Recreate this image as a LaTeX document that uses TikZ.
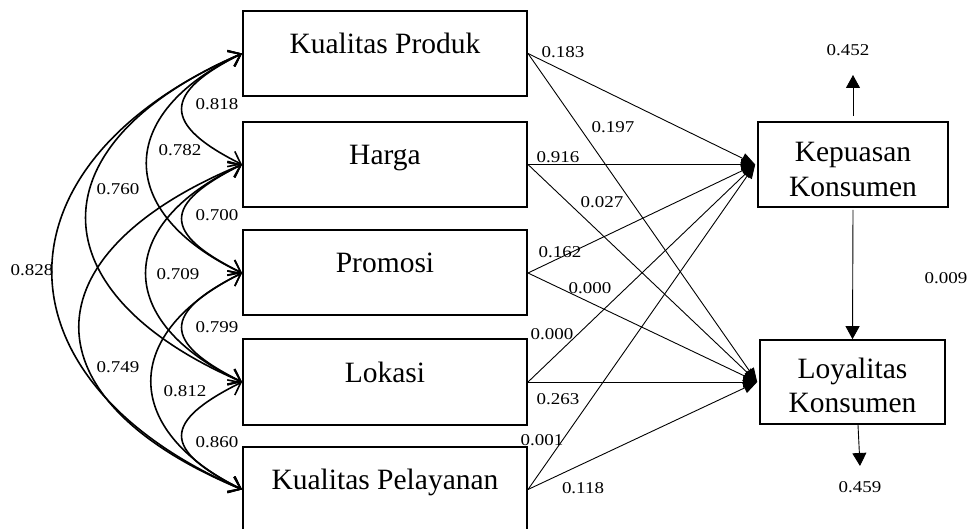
\documentclass[tikz,border=0pt]{standalone}
\usepackage{fontspec}
\setmainfont{Liberation Serif}
\newfontfamily\lblfont[FakeStretch=1.15]{Liberation Serif}
\usetikzlibrary{arrows.meta}
\begin{document}
\begin{tikzpicture}[x=1pt,y=-1pt,
  lbox/.style={draw,line width=2pt,minimum width=284pt,minimum height=85pt,inner sep=0pt,font=\fontsize{29.5}{35}\selectfont},
  rbox/.style={draw,line width=1.6pt,inner sep=0pt,font=\fontsize{29.5}{35}\selectfont},
  lab/.style={font=\lblfont\fontsize{16.5}{18}\selectfont,inner sep=0pt},
  corr/.style={line width=1.6pt,{Straight Barb[length=11pt,width=17pt]}-{Straight Barb[length=11pt,width=17pt]}},
  pathline/.style={line width=0.9pt,-{Triangle[length=14pt,width=11pt]}},
  vtri/.style={line width=0.9pt,-{Triangle[length=13pt,width=14pt]}}]
\useasboundingbox (0,0) rectangle (967,529);

% left boxes
\node[lbox] (kp) at (385,53.5) {\raisebox{0pt}[0pt][0pt]{Kualitas Produk}};
\node[lbox] (hg) at (385,164.5) {\raisebox{0pt}[0pt][0pt]{Harga}};
\node[lbox] (pr) at (385,273) {\raisebox{0pt}[0pt][0pt]{Promosi}};
\node[lbox] (lk) at (385,382) {\raisebox{0pt}[0pt][0pt]{Lokasi}};
\node[lbox] (kl) at (385,489.5) {\raisebox{0pt}[0pt][0pt]{Kualitas Pelayanan}};

% right boxes
\node[rbox,minimum width=190pt,minimum height=85pt] (kep) at (853,164.5)
  {\raisebox{2.5pt}[0pt][0pt]{\parbox[t]{185pt}{\centering Kepuasan\\Konsumen}}};
\node[rbox,minimum width=185pt,minimum height=84pt] (loy) at (852.5,382)
  {\raisebox{4pt}[0pt][0pt]{\parbox[t]{180pt}{\centering Loyalitas\\Konsumen}}};

% correlations
\draw[corr] (kp.west) .. controls +(-80,40) and +(-80,-40) .. (hg.west);
\draw[corr] (hg.west) .. controls +(-80,40) and +(-80,-40) .. (pr.west);
\draw[corr] (pr.west) .. controls +(-80,40) and +(-80,-40) .. (lk.west);
\draw[corr] (lk.west) .. controls +(-80,40) and +(-80,-40) .. (kl.west);
\draw[corr] (kp.west) .. controls +(-127,60) and +(-127,-60) .. (pr.west);
\draw[corr] (hg.west) .. controls +(-128,60) and +(-128,-60) .. (lk.west);
\draw[corr] (pr.west) .. controls +(-121,60) and +(-121,-60) .. (kl.west);
\draw[corr] (kp.west) .. controls +(-208,90) and +(-208,-90) .. (lk.west);
\draw[corr] (hg.west) .. controls +(-217,90) and +(-217,-90) .. (kl.west);
\draw[corr] (kp.west) .. controls +(-253,110) and +(-253,-110) .. (kl.west);

% correlation labels
\node[lab] (c818) at (217,104) {0.818};
\node[lab] (c782) at (180,150) {0.782};
\node[lab] (c760) at (118,189) {0.760};
\node[lab] (c700) at (217,215) {0.700};
\node[lab] (c828) at (32,270) {0.828};
\node[lab] (c709) at (178,274) {0.709};
\node[lab] (c799) at (217,327) {0.799};
\node[lab] (c749) at (118,367) {0.749};
\node[lab] (c812) at (185,391) {0.812};
\node[lab] (c860) at (217,442) {0.860};

% paths
\draw[pathline] (kp.east) -- ([xshift=-2pt]kep.west);
\draw[pathline] (kp.east) -- ([xshift=-2pt]loy.west);
\draw[pathline] (hg.east) -- ([xshift=-2pt]kep.west);
\draw[pathline] (hg.east) -- ([xshift=-2pt]loy.west);
\draw[pathline] (pr.east) -- ([xshift=-2pt]kep.west);
\draw[pathline] (pr.east) -- ([xshift=-2pt]loy.west);
\draw[pathline] (lk.east) -- ([xshift=-2pt]kep.west);
\draw[pathline] (lk.east) -- ([xshift=-2pt]loy.west);
\draw[pathline] (kl.east) -- ([xshift=-2pt]kep.west);
\draw[pathline] (kl.east) -- ([xshift=-2pt]loy.west);

% path labels
\node[lab] (p183) at (563,52) {0.183};
\node[lab] (p197) at (613,127) {0.197};
\node[lab] (p916) at (558,157) {0.916};
\node[lab] (p027) at (602,202) {0.027};
\node[lab] (p162) at (560,252) {0.162};
\node[lab] (p000a) at (590,288) {0.000};
\node[lab] (p000b) at (552,334) {0.000};
\node[lab] (p263) at (558,399) {0.263};
\node[lab] (p001) at (542,440) {0.001};
\node[lab] (p118) at (583,488) {0.118};

% vertical arrows
\coordinate (up452) at (853,75);
\coordinate (dn459) at (860,466);
\draw[vtri] ([yshift=5pt]kep.north) -- (up452);
\draw[vtri] ([yshift=-2pt]kep.south) -- (loy.north);
\draw[vtri] ([xshift=5.5pt]loy.south) -- (dn459);
\node[lab] (r452) at (848,50) {0.452};
\node[lab] (r009) at (946,278) {0.009};
\node[lab] (r459) at (860,487) {0.459};
\end{tikzpicture}
\end{document}
